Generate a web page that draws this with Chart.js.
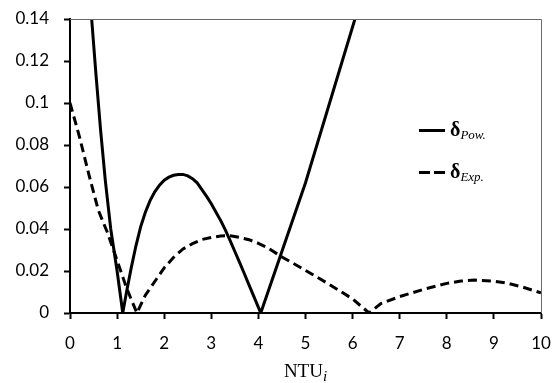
<!DOCTYPE html>
<html>
<head>
<meta charset="utf-8">
<script src="https://cdn.jsdelivr.net/npm/chart.js@4/dist/chart.umd.min.js"></script>
<style>
  html, body { margin: 0; padding: 0; background: #fff; }
  #wrap { position: relative; width: 553px; height: 383px; overflow: hidden; }
  canvas { position: absolute; left: 0; top: 0; }
  .xtitle { position: absolute; left: 0; width: 611px; top: 361px; text-align: center;
            font-family: "Liberation Serif", "DejaVu Serif", serif; font-size: 19px; color: #000; line-height: 1; }
  .xtitle sub { font-style: italic; font-size: 15px; vertical-align: -4px; line-height: 0; }
  .leg { position: absolute; left: 419px; height: 20px; font-family: "Liberation Serif", "DejaVu Serif", serif; color: #000; }
  .leg .sample { position: absolute; left: 0; width: 26px; height: 3px; }
  .leg .txt { position: absolute; left: 31px; top: -5px; white-space: nowrap; font-size: 20px; line-height: 1; }
  .leg .txt b { font-weight: bold; }
  .leg .txt sub { font-style: italic; font-size: 13px; vertical-align: -3px; line-height: 0; }
</style>
</head>
<body>
<div id="wrap">
  <canvas id="c" width="553" height="383"></canvas>
  <div class="xtitle">NTU<sub>i</sub></div>
  <div class="leg" style="top:124px;">
    <div class="sample" style="top:5px;background:#000;"></div>
    <div class="txt"><b>δ</b><sub>Pow.</sub></div>
  </div>
  <div class="leg" style="top:166px;">
    <div class="sample" style="top:5px;background:linear-gradient(to right,#000 0,#000 11px,transparent 11px,transparent 15px,#000 15px,#000 26px);"></div>
    <div class="txt"><b>δ</b><sub>Exp.</sub></div>
  </div>
</div>
<script>
// ---- data ----
const seriesNames = ["δPow.", "δExp."];

const ntuPow = [0.30, 0.46, 0.55, 0.65, 0.75, 0.865, 1.00, 1.12,
  1.20, 1.30, 1.40, 1.50, 1.60, 1.70, 1.80, 1.90, 2.00, 2.10, 2.20, 2.30, 2.40,
  2.50, 2.60, 2.70, 2.80, 2.90, 3.00, 3.10, 3.20, 3.30, 3.40, 3.50, 3.60, 3.70,
  3.80, 3.90, 4.00, 4.05, 5.00, 6.05, 6.50];
const deltaPow = [0.186, 0.140, 0.114, 0.087, 0.063, 0.040, 0.020, 0.000,
  0.010, 0.0215, 0.032, 0.041, 0.048, 0.0535, 0.0577, 0.0609, 0.0632, 0.0647, 0.0656, 0.066, 0.066,
  0.0653, 0.064, 0.062, 0.0588, 0.0555, 0.052, 0.048, 0.044, 0.0395, 0.0345, 0.0293, 0.0241, 0.0188,
  0.0134, 0.008, 0.0027, 0.000, 0.062, 0.140, 0.175];

const ntuExp = [0.00, 0.20, 0.40, 0.60, 0.80, 1.00, 1.20, 1.42,
  1.60, 1.80, 2.00, 2.20, 2.40, 2.60, 2.80, 3.00, 3.20, 3.40, 3.60, 3.80, 4.00,
  4.20, 4.50, 5.00, 5.50, 6.00, 6.35, 6.60, 7.00, 7.50, 8.00, 8.30, 8.60, 9.00,
  9.30, 9.60, 10.00];
const deltaExp = [0.100, 0.084, 0.066, 0.049, 0.038, 0.025, 0.012, 0.000,
  0.0085, 0.015, 0.0215, 0.0265, 0.0305, 0.033, 0.035, 0.036, 0.0367, 0.0368, 0.036, 0.0349, 0.0332,
  0.031, 0.0267, 0.0203, 0.0137, 0.0067, 0.000, 0.0045, 0.0078, 0.0112, 0.0141, 0.0152, 0.0157, 0.0152,
  0.0141, 0.0124, 0.0096];

const xTicks = [0, 1, 2, 3, 4, 5, 6, 7, 8, 9, 10];
const yTicks = [0, 0.02, 0.04, 0.06, 0.08, 0.10, 0.12, 0.14];
const yTickLabels = ["0", "0.02", "0.04", "0.06", "0.08", "0.1", "0.12", "0.14"];

// ---- chart ----
const toPts = (xs, ys) => xs.map((x, i) => ({ x: x, y: ys[i] }));

const frameLines = {
  id: 'frameLines',
  afterDraw(chart) {
    const a = chart.chartArea, ctx = chart.ctx;
    ctx.save();
    ctx.strokeStyle = '#6b6b6b';
    ctx.lineWidth = 1;
    ctx.beginPath();
    ctx.moveTo(a.left, a.top + 0.5);
    ctx.lineTo(a.right + 0.5, a.top + 0.5);
    ctx.lineTo(a.right + 0.5, a.bottom);
    ctx.stroke();
    ctx.restore();
  }
};

const tickFont = { family: 'Lato, "Open Sans", sans-serif', size: 17 };

new Chart(document.getElementById('c'), {
  type: 'line',
  data: {
    datasets: [
      { label: seriesNames[0], data: toPts(ntuPow, deltaPow), borderColor: '#000', borderWidth: 3,
        pointRadius: 0, tension: 0, fill: false },
      { label: seriesNames[1], data: toPts(ntuExp, deltaExp), borderColor: '#000', borderWidth: 3,
        borderDash: [9, 5], pointRadius: 0, tension: 0, fill: false }
    ]
  },
  options: {
    responsive: false,
    animation: false,
    events: [],
    layout: { padding: { top: 19, right: 12, left: 0, bottom: 0 } },
    plugins: { legend: { display: false }, tooltip: { enabled: false } },
    scales: {
      x: {
        type: 'linear', min: 0, max: 10,
        afterBuildTicks: s => { s.ticks = xTicks.map(v => ({ value: v })); },
        afterFit: s => { s.height = 70; s.paddingLeft = 0; s.paddingRight = 0; },
        ticks: { color: '#000', font: tickFont, padding: 14, maxRotation: 0, autoSkip: false },
        grid: { drawOnChartArea: false, drawTicks: true, tickLength: 6, tickColor: '#000', tickWidth: 2 },
        border: { display: true, color: '#000', width: 2 }
      },
      y: {
        type: 'linear', min: 0, max: 0.14,
        afterBuildTicks: s => { s.ticks = yTicks.map(v => ({ value: v })); },
        afterFit: s => { s.width = 70; s.paddingTop = 0; s.paddingBottom = 0; },
        ticks: { color: '#000', font: tickFont, padding: 15,
          callback: (v) => { const i = yTicks.findIndex(t => Math.abs(t - v) < 1e-9); return i >= 0 ? yTickLabels[i] : ''; } },
        grid: { drawOnChartArea: false, drawTicks: true, tickLength: 6, tickColor: '#000', tickWidth: 2 },
        border: { display: true, color: '#000', width: 2 }
      }
    }
  },
  plugins: [frameLines]
});
</script>
</body>
</html>
